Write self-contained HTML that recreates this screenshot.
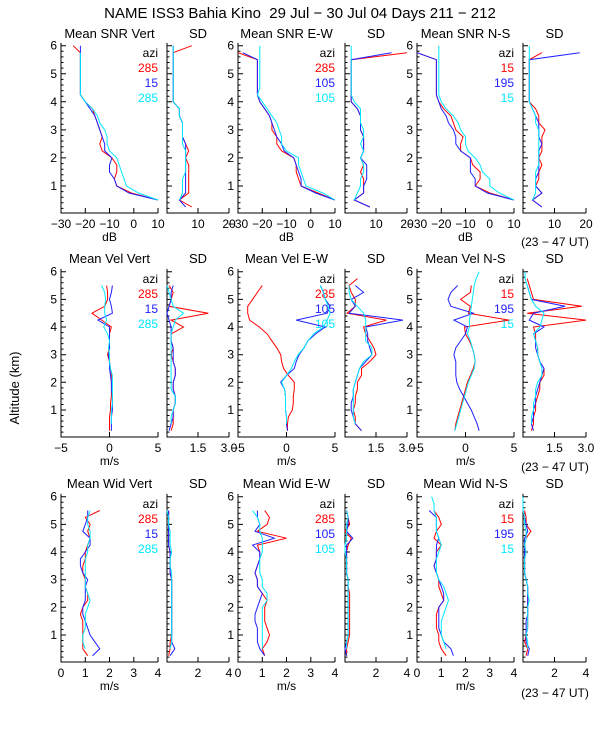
<!DOCTYPE html>
<html><head><meta charset="utf-8"><style>
html,body{margin:0;padding:0;background:#fff;}
svg{display:block;font-family:"Liberation Sans",sans-serif;}
</style></head><body>
<svg id="chart" width="600" height="750" viewBox="0 0 600 750">
<text x="300" y="18" font-size="15" text-anchor="middle" xml:space="preserve">NAME ISS3 Bahia Kino  29 Jul − 30 Jul 04 Days 211 − 212</text>
<text transform="translate(19,388) rotate(-90)" font-size="13" text-anchor="middle">Altitude (km)</text>
</svg>
<script>
const n=null;
const ALT=[0.25,0.5,0.75,1,1.25,1.5,1.75,2,2.25,2.5,2.75,3,3.25,3.5,3.75,4,4.25,4.5,4.75,5,5.25,5.5,5.75,6];
const TITLES=[["Mean SNR Vert","SD","Mean SNR E-W","SD","Mean SNR N-S","SD"],["Mean Vel Vert","SD","Mean Vel E-W","SD","Mean Vel N-S","SD"],["Mean Wid Vert","SD","Mean Wid E-W","SD","Mean Wid N-S","SD"]];
const AZI=[["285","15","285"],["285","105","105"],["15","195","15"]];
const SNR_VERT_R=[n,10,-1,-7,-8,-7,-7,-9,-13,-14,-13,-14,-15,-16,-17,-20,-22,-22,-22,-22,-22,-22,-22,-25];
const SNR_VERT_B=[n,10,-2,-7,-8,-10,-10,-9,-12,-12,-13,-14,-15,-16,-18,-20,-22,-22,-22,-22,-22,-22,-22,-22];
const SNR_VERT_C=[n,10,2,-3,-4,-5,-6,-7,-10,-11,-11,-12,-14,-15,-17,-20,-22,-22,-22,-22,-22,-22,-22,n];
const SNRSD_VERT_R=[8,4,7,7,7,7,7,6,7,6,5,5,5,4,4,2,2,2,2,2,2,2,2,8];
const SNRSD_VERT_B=[6,4,6,6,6,6,6,6,6,6,5,5,5,4,4,2,2,2,2,2,2,2,2,2];
const SNRSD_VERT_C=[n,4,5,5,5,6,6,6,6,5,5,5,5,4,4,2,2,2,2,2,2,2,2,2];
const SNR_EW_R=[n,10,3,-4,-5,-6,-6,-7,-12,-14,-14,-16,-16,-17,-19,-21,-22,-22,-22,-22,-22,-22,-30,n];
const SNR_EW_B=[n,10,2,-4,-4,-5,-6,-7,-11,-12,-14,-15,-16,-17,-19,-21,-22,-22,-22,-22,-22,-22,-28,n];
const SNR_EW_C=[n,10,5,-2,-3,-4,-5,-5,-10,-12,-12,-13,-14,-16,-18,-20,-22,-21,-21,-21,-21,-21,-21,-21];
const SNRSD_EW_R=[8,3,6,6,6,5,6,5,6,6,6,5,5,5,4,2,2,2,2,2,2,2,20,n];
const SNRSD_EW_B=[8,3,6,6,7,7,7,5,6,6,6,5,5,5,4,2,2,2,2,2,2,2,15,n];
const SNRSD_EW_C=[n,3,4,5,5,6,6,5,6,5,6,6,5,5,5,3,2,2,2,2,2,2,2,2];
const SNR_NS_R=[n,10,0,-6,-4,-4,-7,-8,-12,-12,-11,-14,-15,-16,-19,-21,-22,-22,-22,-22,-22,-22,-30,n];
const SNR_NS_B=[n,10,-1,-6,-6,-8,-8,-8,-12,-14,-14,-15,-17,-18,-20,-21,-22,-22,-22,-22,-22,-22,-30,n];
const SNR_NS_C=[n,10,4,0,0,-3,-4,-6,-9,-10,-10,-12,-13,-15,-18,-20,-21,-21,-21,-21,-21,-21,-21,-21];
const SNRSD_NS_R=[6,3,6,4,5,5,6,5,6,6,6,7,5,5,4,2,2,2,2,2,2,2,6,n];
const SNRSD_NS_B=[6,3,6,4,4,5,5,5,5,6,5,5,5,4,3,2,2,2,2,2,2,2,18,n];
const SNRSD_NS_C=[n,3,4,4,4,4,5,5,5,5,5,5,4,4,3,2,2,2,2,2,2,2,2,2];
const VEL_VERT_R=[0,0,0,0.1,0.1,0.2,0.2,0.2,0.2,0.1,0,-0.2,0,0,0,0.2,-0.8,-1.8,-0.5,-0.2,-0.2,-0.3,n,4.5];
const VEL_VERT_B=[0.2,0.2,0.2,0.3,0.3,0.3,0.2,0.2,0.1,0,0,-0.1,0,0,0,0,-1.2,0.3,0.2,0,0.2,0.3,n,n];
const VEL_VERT_C=[n,0.2,0.2,0.2,0.3,0.3,0.3,0.3,0.3,0.1,0,0,-0.1,0,-0.2,-0.6,-0.3,-0.5,-0.5,-0.4,-0.5,-0.8,n,n];
const VELSD_VERT_R=[0.2,0.3,0.3,0.3,0.4,0.4,0.3,0.3,0.4,0.4,0.3,0.2,0.3,0.2,0.2,0.8,0.2,2.0,0.1,0.2,0.3,0.1,n,3.0];
const VELSD_VERT_B=[0.1,0.2,0.3,0.3,0.4,0.4,0.3,0.3,0.4,0.4,0.3,0.3,0.3,0.2,0.2,0.2,0.1,0.0,0.1,0.2,0.2,0.3,n,n];
const VELSD_VERT_C=[n,0.2,0.2,0.3,0.4,0.4,0.2,0.2,0.2,0.2,0.2,0.2,0.2,0.2,0.2,0.3,0.4,0.8,0.3,0.2,0.1,0,n,n];
const VEL_EW_R=[0.1,0.1,0.2,0.6,0.7,0.7,0.8,0.8,0.2,-0.3,-0.5,-0.6,-1,-1.5,-2,-2.8,-3.8,-4,-4,-3.5,-3,-2.5,n,n];
const VEL_EW_B=[0.1,0,0,-0.1,-0.1,-0.1,-0.2,-0.6,0,0.8,1,1.3,1.8,2.2,3,4,1,4.2,4.5,4,3.8,3.5,n,n];
const VEL_EW_C=[n,0,0,-0.1,-0.1,-0.1,-0.2,-0.5,0,0.5,0.8,1.2,1.8,2.2,2.8,3.8,4.2,4.5,4.3,4,3.8,3.5,n,n];
const VELSD_EW_R=[0.8,0.5,0.5,0.4,0.5,0.5,0.6,0.6,0.8,0.8,1.2,1.5,1.4,1.2,1.0,0.9,2.0,0.1,0.5,0.5,0.3,0.2,0.6,n];
const VELSD_EW_B=[0.8,0.5,0.4,0.3,0.3,0.4,0.4,0.5,0.6,0.7,1.0,1.3,1.2,1.1,1.1,1.0,2.8,0.2,0.5,0.3,0.9,0.5,n,n];
const VELSD_EW_C=[n,0.5,0.4,0.4,0.4,0.4,0.4,0.5,0.6,0.7,0.9,1.3,1.3,1.0,1.0,1.0,1.0,0.9,0.6,0.3,0.2,0.2,n,n];
const VEL_NS_R=[-1.1,-1,-0.8,-0.6,-0.4,-0.2,0,0.2,0.5,0.8,1.0,0.9,0.7,0.4,0,-0.1,4.5,0.3,0.5,-0.5,0.5,0.6,n,n];
const VEL_NS_B=[1.4,1.2,0.9,0.6,0.2,-0.2,-0.6,-0.9,-1.0,-1.0,-1.0,-1.2,-1.0,-0.5,0,0.2,-1.2,0.8,-1.5,-1.8,-1.5,-0.8,n,n];
const VEL_NS_C=[-1.1,-0.9,-0.7,-0.5,-0.3,-0.1,0.1,0.3,0.6,0.9,1.0,0.9,0.7,0.5,0.2,0.4,0.4,0.5,0.6,0.7,0.8,0.9,1.1,1.4];
const VELSD_NS_R=[0.4,0.5,0.5,0.6,0.6,0.7,0.8,0.8,1.0,1.0,0.8,0.7,0.7,0.6,0.6,0.5,3.0,0.2,2.8,0.5,0.4,0.3,0.2,n];
const VELSD_NS_B=[0.5,0.4,0.5,0.5,0.6,0.6,0.7,0.8,0.9,1.0,0.8,0.7,0.6,0.6,0.5,1.0,0.3,0.5,2.0,0.4,0.3,0.2,n,n];
const VELSD_NS_C=[n,0.4,0.4,0.5,0.5,0.6,0.6,0.7,0.9,0.9,0.8,0.7,0.7,0.6,0.5,0.8,0.9,1.0,0.6,0.4,0.3,0.2,0.1,0.1];
const WID_VERT_R=[1.1,0.9,0.9,0.9,0.9,0.9,0.8,0.9,1.1,1.1,1.0,1.0,0.9,0.9,1.0,1.0,1.1,1.2,1.1,1.2,1.0,1.6,n,1.9];
const WID_VERT_B=[1.3,1.6,1.4,1.2,1.1,1.0,0.9,0.9,1.0,1.0,1.0,1.1,0.9,0.8,0.8,1.0,1.2,1.2,0.9,1.0,1.1,1.1,n,n];
const WID_VERT_C=[n,1.0,0.9,0.9,1.0,1.0,1.0,1.1,1.2,1.1,1.0,1.0,1.0,1.0,1.0,1.1,1.1,1.2,1.2,1.1,1.1,1.2,n,n];
const WIDSD_VERT_R=[0.1,0.2,0.2,0.3,0.3,0.3,0.3,0.3,0.3,0.3,0.3,0.3,0.2,0.2,0.2,0.2,0.1,0.1,0.1,0.1,0.1,0.1,n,0.3];
const WIDSD_VERT_B=[0.2,0.5,0.3,0.3,0.3,0.3,0.3,0.3,0.3,0.3,0.3,0.3,0.2,0.2,0.2,0.2,0.1,0.1,0.1,0.1,0.1,0.1,n,n];
const WIDSD_VERT_C=[n,0.2,0.3,0.3,0.3,0.3,0.3,0.3,0.3,0.3,0.3,0.3,0.3,0.2,0.2,0.3,0.2,0.2,0.2,0.1,0.1,0.0,n,n];
const WID_EW_R=[1.1,1.0,1.2,1.3,1.2,1.1,1.1,1.1,1.2,1.0,0.8,0.8,0.7,0.8,0.9,0.9,0.8,2.0,0.8,1.2,1.3,1.1,n,n];
const WID_EW_B=[1.1,0.9,0.8,0.8,0.8,0.7,0.7,0.8,0.9,1.0,0.8,0.8,0.7,0.8,0.9,0.9,0.6,1.5,0.7,0.9,0.8,0.8,n,n];
const WID_EW_C=[n,1.0,1.0,1.0,1.0,1.0,1.0,1.0,1.2,1.2,1.0,1.0,0.9,0.9,0.9,1.0,1.0,1.0,0.9,0.9,0.8,0.6,n,n];
const WIDSD_EW_R=[0.1,0.1,0.2,0.3,0.3,0.3,0.3,0.3,0.3,0.3,0.2,0.2,0.1,0.1,0.1,0.1,0.2,0.4,0.0,0.3,0.2,0.1,n,n];
const WIDSD_EW_B=[0.1,0.0,0.1,0.2,0.2,0.2,0.2,0.2,0.2,0.2,0.2,0.2,0.1,0.1,0.1,0.1,0.1,0.5,0.1,0.2,0.2,0.1,n,n];
const WIDSD_EW_C=[n,0.1,0.1,0.2,0.2,0.2,0.2,0.2,0.2,0.2,0.2,0.2,0.1,0.1,0.1,0.0,0.0,0.1,0.1,0.1,0.2,0.1,n,n];
const WID_NS_R=[1.2,1.0,0.9,0.9,0.8,0.8,0.8,0.9,1.1,1.0,0.9,0.9,0.8,0.7,0.8,0.8,1.0,0.7,0.8,1.0,0.9,0.7,n,n];
const WID_NS_B=[1.5,1.4,1.1,1.0,0.9,0.9,0.9,0.9,1.1,1.1,1.0,0.9,0.8,0.7,0.8,0.8,0.8,0.9,0.8,0.8,0.8,0.5,n,n];
const WID_NS_C=[n,1.2,1.1,1.0,1.0,1.0,1.1,1.2,1.3,1.2,1.1,0.9,0.8,0.8,0.8,0.9,1.0,0.9,0.8,0.8,0.8,0.7,0.7,0.6];
const WIDSD_NS_R=[0.2,0.3,0.1,0.2,0.3,0.3,0.3,0.3,0.3,0.3,0.3,0.2,0.1,0.1,0.1,0.2,0.1,0.2,0.5,0.2,0.2,0.1,n,n];
const WIDSD_NS_B=[0.3,0.4,0.2,0.2,0.2,0.2,0.3,0.3,0.3,0.3,0.3,0.2,0.1,0.1,0.1,0.1,0.1,0.1,0.3,0.2,0.1,0.0,n,n];
const WIDSD_NS_C=[n,0.3,0.3,0.2,0.3,0.3,0.3,0.3,0.4,0.3,0.3,0.2,0.1,0.1,0.1,0.2,0.1,0.2,0.2,0.1,0.1,0.0,0.0,0.0];
const MEAN_TICKS=[[-30,-20,-10,0,10],[-5,0,5],[0,1,2,3,4]];
const MEAN_TICK_LABELS=[["−30","−20","−10","0","10"],["−5","0","5"],["0","1","2","3","4"]];
const SD_TICKS=[[10,20],[1.5,3.0],[2,4]];
const SD_TICK_LABELS=[["10","20"],["1.5","3.0"],["2","4"]];
const UNITS=["dB","m/s","m/s"];

const SERIES=[
 [[SNR_VERT_R,SNR_VERT_B,SNR_VERT_C],[SNRSD_VERT_R,SNRSD_VERT_B,SNRSD_VERT_C],[SNR_EW_R,SNR_EW_B,SNR_EW_C],[SNRSD_EW_R,SNRSD_EW_B,SNRSD_EW_C],[SNR_NS_R,SNR_NS_B,SNR_NS_C],[SNRSD_NS_R,SNRSD_NS_B,SNRSD_NS_C]],
 [[VEL_VERT_R,VEL_VERT_B,VEL_VERT_C],[VELSD_VERT_R,VELSD_VERT_B,VELSD_VERT_C],[VEL_EW_R,VEL_EW_B,VEL_EW_C],[VELSD_EW_R,VELSD_EW_B,VELSD_EW_C],[VEL_NS_R,VEL_NS_B,VEL_NS_C],[VELSD_NS_R,VELSD_NS_B,VELSD_NS_C]],
 [[WID_VERT_R,WID_VERT_B,WID_VERT_C],[WIDSD_VERT_R,WIDSD_VERT_B,WIDSD_VERT_C],[WID_EW_R,WID_EW_B,WID_EW_C],[WIDSD_EW_R,WIDSD_EW_B,WIDSD_EW_C],[WID_NS_R,WID_NS_B,WID_NS_C],[WIDSD_NS_R,WIDSD_NS_B,WIDSD_NS_C]]
];
const svg=document.getElementById('chart');
const NS='http://www.w3.org/2000/svg';
const COLS=[[61,158],[167,229],[238,335],[345,407],[417,514],[523,586]];
const ROWS=[{y1:186,pk:28.06,bot:213},{y1:410,pk:27.66,bot:437},{y1:635,pk:27.66,bot:662}];
const XR=[[[-30,10],[0,20]],[[-5,5],[0,3]],[[0,4],[0,4]]];
const COLORS=["#ff0000","#2020ff","#00e8ff"];
const SER_NAMES=["red","blue","cyan"];
function mk(tag,attrs,parent){const e=document.createElementNS(NS,tag);for(const k in attrs)e.setAttribute(k,attrs[k]);(parent||svg).appendChild(e);return e;}
function txt(x,y,s,anchor,size,fill,parent){const t=mk('text',{x:x,y:y,'font-size':size||12,'text-anchor':anchor||'middle',fill:fill||'#000'},parent);t.textContent=s;return t;}

for(let r=0;r<3;r++){
 const R=ROWS[r];
 const yS=a=>R.y1-(a-1)*R.pk;
 const top=yS(6.1);
 for(let c=0;c<6;c++){
  const isSD=c%2===1;
  const [x0,x1]=COLS[c];
  const [d0,d1]=XR[r][isSD?1:0];
  const xS=v=>x0+(v-d0)/(d1-d0)*(x1-x0);
  const g=mk('g',{});
  
  
  const tt=txt((x0+x1)/2,[38,263,488][r],TITLES[r][c],'middle',13,'#000',g);
  
  
  const ax=mk('path',{d:`M${x0},${top}V${R.bot}H${x1}`,stroke:'#000','stroke-width':1,fill:'none'},g);
  
  
  let tk='';
  for(let a=0.2;a<6.05;a+=0.2){const y=yS(a);const maj=Math.abs(a-Math.round(a))<0.01;tk+=`M${x0},${y.toFixed(1)}h${maj?5:2.5}`;}
  const ticks=isSD?SD_TICKS[r]:MEAN_TICKS[r];
  const tlabels=isSD?SD_TICK_LABELS[r]:MEAN_TICK_LABELS[r];
  ticks.forEach(v=>{tk+=`M${xS(v).toFixed(1)},${R.bot}v-5`;});
  if(!isSD) tk+=`M${x0},${R.bot}v-5`;
  mk('path',{d:tk,stroke:'#000','stroke-width':1,fill:'none'},g);
  const xl=mk('g',{},g);
  
  
  ticks.forEach((v,i)=>txt(xS(v),R.bot+15,tlabels[i],'middle',12,'#000',xl));
  if(!isSD){
   const yl=mk('g',{},g);
   
   
   for(let a=1;a<=6;a++) txt(x0-4,yS(a)+4,String(a),'end',12,'#000',yl);
   const u=txt((x0+x1)/2,R.bot+28,UNITS[r],'middle',12,'#000',g);
   
   
   const lg=mk('g',{},g);
   
   
   const ly=yS(5.6);
   txt(x1,ly,'azi','end',12,'#000',lg);
   for(let s=0;s<3;s++){const e=txt(x1,ly+15*(s+1),AZI[c/2][s],'end',12,COLORS[s],lg);
    
    }
  }
  const data=SERIES[r][c];
  for(let s=0;s<3;s++){
   let d='',pen=false;
   data[s].forEach((v,i)=>{if(v===null){pen=false;return;}d+=(pen?'L':'M')+xS(v).toFixed(1)+','+yS(ALT[i]).toFixed(1);pen=true;});
   const p=mk('path',{d:d,stroke:COLORS[s],'stroke-width':1,fill:'none'},g);
   
   
  }
 }
 const ut=txt(555,[246,471,697][r],'(23 − 47 UT)','middle',12,'#000');
 
 
}
</script>
</body></html>
